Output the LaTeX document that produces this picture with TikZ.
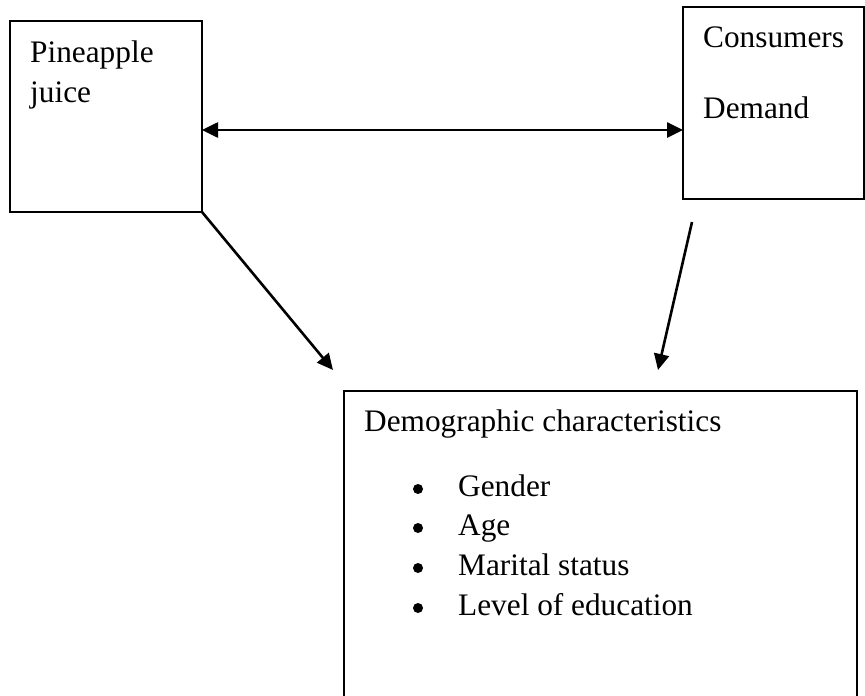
\documentclass[tikz,border=0pt]{standalone}
\usepackage{fontspec}
\setmainfont{Liberation Serif}
\usetikzlibrary{arrows.meta,calc}
\begin{document}
\begin{tikzpicture}[x=1pt,y=-1pt,
  box/.style={draw,line width=1.6pt,rectangle,inner sep=0pt,outer sep=0pt,anchor=north west},
  lbl/.style={anchor=base west,inner sep=0pt,font=\fontsize{31.3}{40}\selectfont},
  conn/.style={line width=2.6pt,-{Triangle[length=16pt,width=15pt]}},
  dconn/.style={line width=2.6pt,{Triangle[length=16pt,width=15pt]}-{Triangle[length=16pt,width=15pt]}},
  dot/.style={circle,fill,inner sep=0pt,minimum size=10pt}]
\useasboundingbox (0,0) rectangle (865,696);
% boxes
\node[box,minimum width=192pt,minimum height=191pt] (pj) at (10,21) {};
\node[box,minimum width=181pt,minimum height=192pt] (cd) at (683,7) {};
\node[box,minimum width=513pt,minimum height=340pt] (dc) at (344,391) {};
% texts
\node[lbl] (t1) at (30,62) {Pineapple};
\node[lbl] (t2) at (30,102) {juice};
\node[lbl] (t3) at (703,47) {Consumers};
\node[lbl] (t4) at (703,118) {Demand};
\node[lbl] (t5) at (364,431) {Demographic characteristics};
\node[dot] (b1) at (418,489) {};
\node[dot] (b2) at (418,528) {};
\node[dot] (b3) at (418,568) {};
\node[dot] (b4) at (418,608) {};
\node[lbl] (i1) at (458,496) {Gender};
\node[lbl] (i2) at (458,535) {Age};
\node[lbl] (i3) at (458,575) {Marital status};
\node[lbl] (i4) at (458,615) {Level of education};
% connectors
\draw[dconn] ($(pj.north east)+(0,109)$) -- ($(cd.north west)+(0,123)$);
\draw[conn] (pj.south east) -- ($(dc.north west)+(-11,-21)$);
\draw[conn] ($(cd.south west)+(9,23)$) -- ($(dc.north west)+(314,-21)$);
\end{tikzpicture}
\end{document}
